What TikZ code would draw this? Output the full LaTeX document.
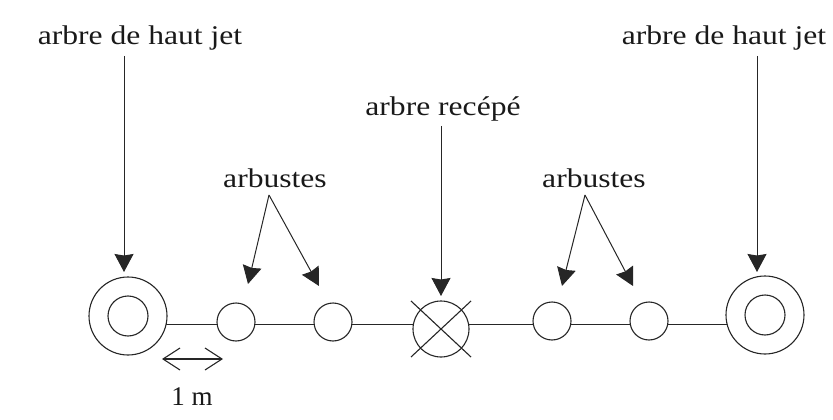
\documentclass[tikz,border=0pt]{standalone}
\usepackage{fontspec}
\usepackage{graphicx}
\setmainfont{Liberation Serif}
\usetikzlibrary{arrows.meta,calc}
\newcommand{\lbl}[1]{\scalebox{1.17}[1]{#1}}
\begin{document}
\begin{tikzpicture}[x=1pt,y=-1pt,
  ink/.style={draw=black!85, line width=1.1pt},
  tree/.style={ink, circle, fill=white, inner sep=0pt, minimum size=78pt},
  core/.style={ink, circle, inner sep=0pt, minimum size=40pt},
  shrub/.style={ink, circle, fill=white, inner sep=0pt, minimum size=38pt},
  cut/.style={ink, circle, fill=white, inner sep=0pt, minimum size=56pt},
  label/.style={anchor=base, inner sep=0pt, text=black!90, font=\fontsize{27}{32}\selectfont},
  pointer/.style={draw=black!85, line width=1pt, -{Stealth[length=18pt,width=19pt,inset=1.5pt]}},
  span/.style={draw=black!85, line width=1.1pt, {Straight Barb[length=17pt,width=22pt]}-{Straight Barb[length=17pt,width=22pt]}}]
\useasboundingbox (0,0) rectangle (833,420);

% hedge line running behind the plants
\coordinate (lineL) at (150,324);
\coordinate (lineR) at (740,324);
\draw[ink, line width=1pt] (lineL) -- (lineR);

% plants along the hedge
\node[tree] (treeL) at (128,316) {};
\node[core] at (treeL.center) {};
\node[shrub] (s1) at (236,322) {};
\node[shrub] (s2) at (333,322) {};
\node[cut] (cut) at (441,329) {};
\draw[ink] ($(cut.center)+(-30,-28)$) -- ($(cut.center)+(30,28)$);
\draw[ink] ($(cut.center)+(-30,28)$) -- ($(cut.center)+(30,-28)$);
\node[shrub] (s3) at (552,321) {};
\node[shrub] (s4) at (649,321) {};
\node[tree] (treeR) at (765,315) {};
\node[core] at (treeR.center) {};

% labels
\node[label] (hjL) at (140,45) {\lbl{arbre de haut jet}};
\node[label] (hjR) at (724,45) {\lbl{arbre de haut jet}};
\node[label] (rec) at (443,115) {\lbl{arbre recépé}};
\node[label] (arbL) at (275,187) {\lbl{arbustes}};
\node[label] (arbR) at (594,187) {\lbl{arbustes}};
\node[label] (metre) at (192,405) {1 m};

% arrow tips
\coordinate (tipHL) at (124,272);
\coordinate (tipHR) at (757,272);
\coordinate (tipRec) at (441,296);
\coordinate (apexL) at (269,195);
\coordinate (apexR) at (585,195);
\coordinate (tip1) at (248,284);
\coordinate (tip2) at (319,286);
\coordinate (tip3) at (562,286);
\coordinate (tip4) at (633,286);

\draw[pointer] (hjL.south -| tipHL) ++(0,5) -- (tipHL);
\draw[pointer] (hjR.south -| tipHR) ++(0,5) -- (tipHR);
\draw[pointer] (rec.south -| tipRec) ++(0,5) -- (tipRec);
\draw[pointer] (apexL) -- (tip1);
\draw[pointer] (apexL) -- (tip2);
\draw[pointer] (apexR) -- (tip3);
\draw[pointer] (apexR) -- (tip4);

% one-metre spacing
\coordinate (spanA) at (162,359);
\coordinate (spanB) at (223,359);
\draw[span] (spanA) -- (spanB);
\end{tikzpicture}
\end{document}
